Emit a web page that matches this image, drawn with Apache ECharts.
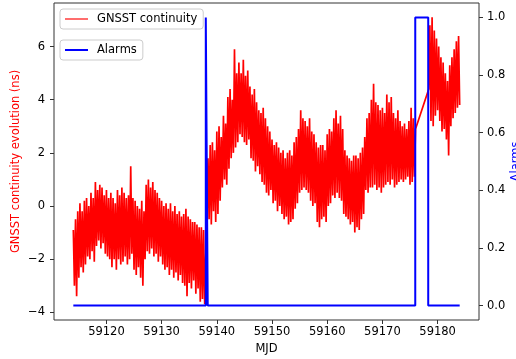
<!DOCTYPE html>
<html>
<head>
<meta charset="utf-8">
<script src="https://cdn.jsdelivr.net/npm/echarts@6/dist/echarts.min.js"></script>
<style>
html,body{margin:0;padding:0;background:#fff;}
#chart{width:516px;height:359px;}
</style>
</head>
<body>
<div id="chart"></div>
<script>
// ---- data ----
const sampleStep = 0.2; // days between samples
const seg1Start = 59114.0;
const seg1Values = [
  -0.9,-3.0,-0.5,-3.4,-0.2,
  -2.7,0.1,-2.3,-0.2,-2.5,
  0.2,-2.2,0.3,-1.9,0.0,
  -2.0,0.5,-1.7,0.3,-2.1,
  0.9,-1.5,0.6,-1.3,0.8,
  -1.6,0.7,-1.4,0.4,-1.8,
  0.6,-1.9,0.3,-2.0,0.5,
  -2.3,0.3,-2.0,0.1,-2.4,
  0.6,-2.0,0.4,-2.2,0.7,
  -2.1,0.5,-1.9,0.3,-2.2,
  0.4,-2.0,1.5,-1.8,0.3,
  -2.4,0.2,-2.6,0.0,-2.3,
  -0.1,-2.7,0.2,-3.0,-0.2,
  -2.0,0.8,-1.7,1.0,-1.8,
  0.7,-1.6,0.9,-1.9,0.6,
  -1.8,0.5,-2.1,0.3,-1.9,
  0.2,-2.2,0.0,-2.4,0.1,
  -2.3,-0.1,-2.6,0.1,-2.4,
  -0.2,-2.7,0.0,-2.5,-0.3,
  -2.8,-0.2,-2.6,-0.4,-2.9,
  -0.3,-3.0,-0.1,-3.4,-0.4,
  -2.9,-0.5,-3.1,-0.6,-2.8,
  -0.6,-3.3,-0.7,-3.1,-0.8,
  -3.6,-0.8,-3.5,-0.9,-3.7
];
const seg2Start = 59138.4;
const seg2Values = [
  1.8,-0.5,2.3,
  -0.7,2.4,-0.2,2.1,-0.6,
  2.8,-0.3,3.0,0.2,2.6,
  0.7,3.4,1.0,3.1,0.8,
  4.1,1.4,4.4,1.8,4.0,
  2.0,5.9,2.2,5.0,2.4,
  5.4,2.7,5.0,2.6,5.5,
  2.4,4.9,2.3,5.1,2.5,
  4.5,1.8,4.2,1.7,4.4,
  1.3,3.9,1.5,3.6,1.2,
  3.5,0.9,3.7,0.8,3.3,
  0.5,3.0,0.4,2.8,0.6,
  2.5,0.1,2.3,0.2,2.4,
  -0.2,2.2,0.0,2.0,-0.3,
  2.1,-0.5,1.8,-0.4,2.0,
  -0.7,2.1,-0.6,1.9,-0.5,
  2.4,-0.1,2.6,0.1,2.9,
  0.5,3.6,0.6,3.3,0.7,
  3.2,0.6,3.0,0.5,3.3,
  0.2,2.8,0.0,2.7,0.1,
  2.4,-0.6,2.2,-0.8,2.3,
  -0.5,2.3,-0.4,2.1,-0.6,
  2.7,0.0,2.9,0.1,2.8,
  0.4,3.3,0.3,3.6,0.5,
  3.1,0.3,3.4,0.2,2.9,
  -0.3,2.1,-0.4,1.9,-0.5,
  1.8,-0.7,1.7,-0.6,1.9,
  -1.0,1.9,-0.8,1.8,-0.9,
  2.0,-0.5,2.2,-0.3,2.6,
  0.6,3.3,0.5,3.5,0.7,
  4.0,0.7,4.6,0.8,3.9,
  0.6,3.8,0.7,3.6,0.5,
  3.7,0.7,3.5,0.8,4.2,
  0.9,3.9,0.8,4.1,1.0,
  3.5,0.7,3.3,0.8,3.6,
  0.9,3.2,1.0,3.0,0.9,
  3.1,1.0,2.9,1.1,3.2,
  0.8,3.7,0.9,3.3,1.1,
  2.9
];
const seg3Start = 59178.4;
const seg3Values = [
  4.4,6.8,3.2,7.1,3.0,6.6,3.4,6.3,3.6,6.0,
  3.2,5.6,2.8,5.4,2.9,5.0,2.5,4.7,1.9,5.3,
  3.0,5.6,3.3,5.9,3.5,6.2,3.7,6.4,3.8
];
const alarmMjd   = [59114, 59138.0, 59138.0, 59138.35, 59138.35, 59175.95, 59175.95, 59178.3, 59178.3, 59184];
const alarmState = [0, 0, 1, 1, 0, 0, 1, 1, 0, 0];

const xTicks = [59120, 59130, 59140, 59150, 59160, 59170, 59180];
const yLeftTicks = [-4, -2, 0, 2, 4, 6];
const yRightTicks = [0, 0.2, 0.4, 0.6, 0.8, 1.0];

// ---- build series ----
function buildSeg(start, vals) {
  return vals.map((v, i) => [+(start + i * sampleStep).toFixed(2), v]);
}
const gnsstData = [].concat(
  buildSeg(seg1Start, seg1Values),
  buildSeg(seg2Start, seg2Values),
  buildSeg(seg3Start, seg3Values)
);
const alarmData = alarmMjd.map((t, i) => [t, alarmState[i]]);

const FONT = 'DejaVu Sans';
const FS = 11.5;
const minusFmt = v => (v < 0 ? '\u2212' + Math.abs(v) : String(v));

const legendBase = {
  orient: 'vertical',
  padding: [4, 6, 4, 5],
  itemWidth: 23, itemHeight: 14,
  symbolKeepAspect: true,
  backgroundColor: 'rgba(255,255,255,0.8)',
  borderColor: '#cccccc', borderWidth: 1, borderRadius: 3,
  textStyle: {fontFamily: FONT, fontSize: FS, color: '#000', padding: [0, 0, 0, 4]}
};

const chart = echarts.init(document.getElementById('chart'), null, {renderer: 'canvas'});
chart.setOption({
  animation: false,
  backgroundColor: '#fff',
  textStyle: {fontFamily: FONT},
  grid: {
    left: 54, right: 37, top: 3, bottom: 39,
    show: true, borderColor: '#333', borderWidth: 1, backgroundColor: 'transparent',
    outerBoundsMode: 'none', containLabel: false
  },
  legend: [
    Object.assign({}, legendBase, {
      left: 60, top: 9,
      data: [{name: 'GNSST continuity', icon: 'path://M0,0H20V1H0Z', itemStyle: {color: '#ff0000', borderWidth: 0}}]
    }),
    Object.assign({}, legendBase, {
      left: 60, top: 40,
      data: [{name: 'Alarms', icon: 'path://M0,0H23V2H0Z', itemStyle: {color: '#0000ff', borderWidth: 0}}]
    })
  ],
  xAxis: {
    type: 'value',
    min: 59110.5, max: 59187.5,
    name: 'MJD', nameLocation: 'middle', nameGap: 23, nameMoveOverlap: false,
    nameTextStyle: {fontFamily: FONT, fontSize: FS, color: '#000'},
    axisLine: {show: false, onZero: false},
    splitLine: {show: false},
    axisTick: {show: true, inside: false, length: 4, customValues: xTicks, lineStyle: {color: '#333', width: 1}},
    axisLabel: {customValues: xTicks, margin: 6, fontFamily: FONT, fontSize: FS, color: '#000', formatter: v => String(v)}
  },
  yAxis: [
    {
      type: 'value',
      min: -4.29, max: 7.64,
      name: 'GNSST continuity evolution (ns)', nameLocation: 'middle', nameGap: 32, nameRotate: 90, nameMoveOverlap: false,
      nameTextStyle: {fontFamily: FONT, fontSize: FS, color: '#ff0000'},
      axisLine: {show: false, onZero: false},
      splitLine: {show: false},
      axisTick: {show: true, inside: false, length: 4, customValues: yLeftTicks, lineStyle: {color: '#333', width: 1}},
      axisLabel: {customValues: yLeftTicks, margin: 9, fontFamily: FONT, fontSize: FS, color: '#000', formatter: minusFmt}
    },
    {
      type: 'value',
      position: 'right',
      min: -0.05, max: 1.05,
      name: 'Alarms', nameLocation: 'middle', nameGap: 31, nameRotate: 90, nameMoveOverlap: false,
      nameTextStyle: {fontFamily: FONT, fontSize: FS, color: '#0000ff'},
      axisLine: {show: false, onZero: false},
      splitLine: {show: false},
      axisTick: {show: true, inside: false, length: 4, customValues: yRightTicks, lineStyle: {color: '#333', width: 1}},
      axisLabel: {customValues: yRightTicks, margin: 8, fontFamily: FONT, fontSize: FS, color: '#000', formatter: v => v.toFixed(1)}
    }
  ],
  series: [
    {
      name: 'GNSST continuity',
      type: 'line',
      xAxisIndex: 0, yAxisIndex: 0,
      data: gnsstData,
      symbol: 'none', showSymbol: false,
      lineStyle: {color: '#ff0000', width: 1.7, join: 'bevel'},
      itemStyle: {color: '#ff0000'},
      z: 2
    },
    {
      name: 'Alarms',
      type: 'line',
      xAxisIndex: 0, yAxisIndex: 1,
      data: alarmData,
      symbol: 'none', showSymbol: false,
      lineStyle: {color: '#0000ff', width: 2},
      itemStyle: {color: '#0000ff'},
      z: 3
    }
  ]
});
</script>
</body>
</html>
